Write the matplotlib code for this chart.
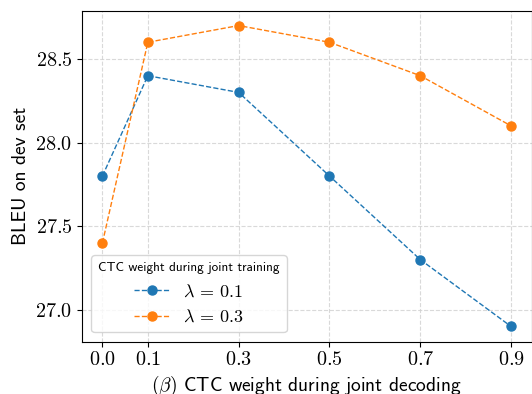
import matplotlib
matplotlib.use("Agg")
import matplotlib.pyplot as plt

### Data ###
beta = [0.0, 0.1, 0.3, 0.5, 0.7, 0.9]
bleu_lam01 = [27.8, 28.4, 28.3, 27.8, 27.3, 26.9]
bleu_lam03 = [27.4, 28.6, 28.7, 28.6, 28.4, 28.1]
yticks = [27.0, 27.5, 28.0, 28.5]

### Style ###
plt.rcParams['mathtext.fontset'] = 'cm'
plt.rcParams['font.family'] = ['cmss10', 'DejaVu Sans']
plt.rcParams['axes.unicode_minus'] = False

fig = plt.figure(figsize=(5.32, 3.94), dpi=100)
ax = fig.add_axes([82 / 532, 52.5 / 394, 449.5 / 532, 331 / 394])

ax.plot(beta, bleu_lam01, '--o', color='tab:blue', lw=1, ms=6.5, label=r'$\lambda\,=\,0.1$')
ax.plot(beta, bleu_lam03, '--o', color='tab:orange', lw=1, ms=6.5, label=r'$\lambda\,=\,0.3$')

ax.set_xticks(beta)
ax.set_xticklabels([f'${b:.1f}$' for b in beta], fontsize=14.5)
ax.set_yticks(yticks)
ax.set_yticklabels([f'${y:.1f}$' for y in yticks], fontsize=14.5)

ax.set_xlabel(r'$(\beta)$ CTC weight during joint decoding', fontsize=14, labelpad=3)
ax.set_ylabel('BLEU on dev set', fontsize=14)
ax.grid(True, linestyle='--', color='#d0d0d0', alpha=0.8)

leg = ax.legend(title='CTC weight during joint training', loc='lower left',
                fontsize=13, title_fontsize=9.5, framealpha=0.8, handlelength=1.9)

fig.savefig('out.png', dpi=100)
